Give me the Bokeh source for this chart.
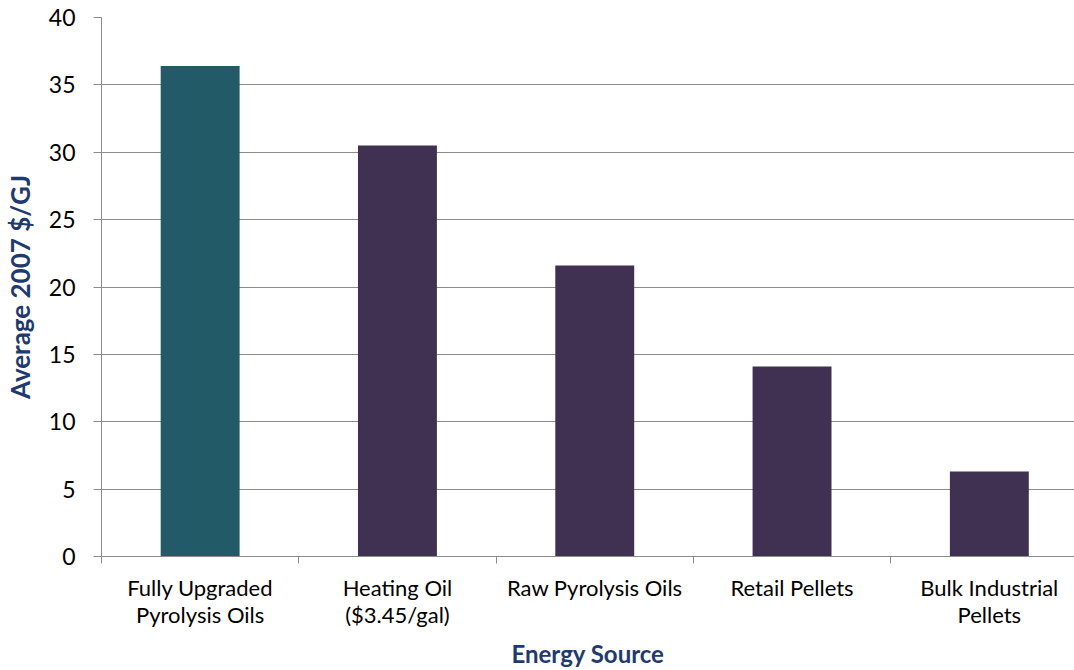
from bokeh.plotting import figure
from bokeh.models import Range1d, FixedTicker
from bokeh.embed import file_html
from bokeh.resources import INLINE

categories = ["Fully Upgraded\nPyrolysis Oils", "Heating Oil\n($3.45/gal)",
              "Raw Pyrolysis Oils", "Retail Pellets", "Bulk Industrial\nPellets"]
values = [36.4, 30.5, 21.6, 14.1, 6.3]
y_ticks = [0, 5, 10, 15, 20, 25, 30, 35, 40]
x_title = "Energy Source"
y_title = "Average 2007 $/GJ"

TEAL = "#235A68"
PURPLE = "#403152"
NAVY = "#1F3A6E"
GRID = "#8C8C8C"
FONT = "Lato"

centers = [i + 0.5 for i in range(len(categories))]
bar_colors = [TEAL] + [PURPLE] * (len(categories) - 1)

p = figure(width=1074, height=670, output_backend="svg", toolbar_location=None,
           x_range=Range1d(0, 974 / 197.5), y_range=Range1d(0, 40),
           min_border_left=100, min_border_right=0, min_border_top=17, min_border_bottom=114)
p.outline_line_color = None
p.background_fill_color = "white"
p.border_fill_color = "white"

p.vbar(x=centers, top=values, width=0.4, fill_color=bar_colors, line_color=None)

# y axis
p.yaxis.ticker = FixedTicker(ticks=y_ticks)
p.yaxis.axis_line_color = GRID
p.yaxis.major_tick_line_color = GRID
p.yaxis.major_tick_out = 8
p.yaxis.major_tick_in = 0
p.yaxis.minor_tick_line_color = None
p.yaxis.major_label_text_font = FONT
p.yaxis.major_label_text_font_size = "23px"
p.yaxis.major_label_text_color = "#000000"
p.yaxis.major_label_standoff = 18
p.yaxis.axis_label = y_title
p.yaxis.axis_label_text_font = FONT
p.yaxis.axis_label_text_font_style = "bold"
p.yaxis.axis_label_text_font_size = "26px"
p.yaxis.axis_label_text_color = NAVY
p.yaxis.axis_label_standoff = 10

# x axis
p.xaxis.ticker = FixedTicker(ticks=centers, minor_ticks=list(range(len(categories) + 1)))
p.xaxis.major_label_overrides = {c: lab for c, lab in zip(centers, categories)}
p.xaxis.axis_line_color = GRID
p.xaxis.major_tick_line_color = None
p.xaxis.major_tick_out = 0
p.xaxis.major_tick_in = 0
p.xaxis.minor_tick_line_color = GRID
p.xaxis.minor_tick_out = 7
p.xaxis.minor_tick_in = 0
p.xaxis.major_label_text_font = FONT
p.xaxis.major_label_text_font_size = "22px"
p.xaxis.major_label_text_color = "#000000"
p.xaxis.major_label_text_line_height = 1.0
p.xaxis.major_label_standoff = 10
p.xaxis.axis_label = x_title
p.xaxis.axis_label_text_font = FONT
p.xaxis.axis_label_text_font_style = "bold"
p.xaxis.axis_label_text_font_size = "24px"
p.xaxis.axis_label_text_color = NAVY
p.xaxis.axis_label_standoff = 8

p.xgrid.grid_line_color = None
p.ygrid.ticker = FixedTicker(ticks=y_ticks)
p.ygrid.grid_line_color = GRID
p.ygrid.grid_line_width = 1

open("out.html", "w").write(file_html(p, INLINE))
